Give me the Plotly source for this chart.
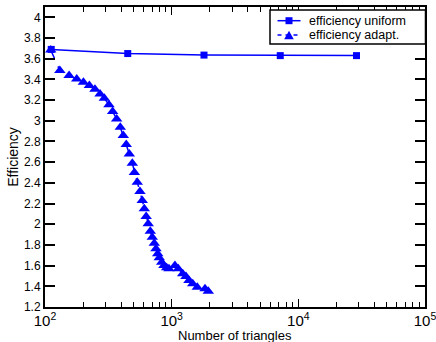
import plotly.graph_objects as go

uniform_n = [112, 450, 1800, 7200, 28800]
uniform_eff = [3.69, 3.65, 3.635, 3.63, 3.63]

adapt_n = [111, 131, 155, 178, 201, 224, 248, 272, 294, 320, 342, 368, 393, 415, 438,
           463, 489, 508, 535, 562, 586, 608, 629, 653, 678, 703, 729, 752, 776, 798,
           834, 869, 913, 952, 1061, 1128, 1222, 1297, 1370, 1466, 1593, 1833, 1946]
adapt_eff = [3.685, 3.485, 3.437, 3.405, 3.372, 3.340, 3.304, 3.260, 3.217, 3.154, 3.089,
             3.018, 2.937, 2.857, 2.770, 2.680, 2.589, 2.500, 2.406, 2.316, 2.229, 2.149,
             2.074, 2.004, 1.932, 1.874, 1.816, 1.762, 1.714, 1.675, 1.633, 1.601, 1.579,
             1.570, 1.601, 1.569, 1.521, 1.495, 1.456, 1.424, 1.391, 1.376, 1.353]

y_ticks = [1.2, 1.4, 1.6, 1.8, 2, 2.2, 2.4, 2.6, 2.8, 3, 3.2, 3.4, 3.6, 3.8, 4]
series_names = ["efficiency uniform", "efficiency adapt."]
x_title = "Number of triangles"
y_title = "Efficiency"

BLUE = "#0000ff"
W, H = 436, 342
ML, MR, MT, MB = 45, 11, 7, 35
PW, PH = W - ML - MR, H - MT - MB

fig = go.Figure()
fig.add_trace(go.Scatter(x=uniform_n, y=uniform_eff, mode="lines+markers",
                         name=series_names[0],
                         line=dict(color=BLUE, width=1.5),
                         marker=dict(symbol="square", size=7, color=BLUE)))
fig.add_trace(go.Scatter(x=adapt_n, y=adapt_eff, mode="lines+markers",
                         name=series_names[1],
                         line=dict(color=BLUE, width=1.5, dash="dash"),
                         marker=dict(symbol="triangle-up", size=10, color=BLUE)))

axis_common = dict(showline=True, linecolor="black", linewidth=2, mirror="ticks",
                   ticks="inside", tickcolor="black", showgrid=False, zeroline=False,
                   automargin=False)

fig.update_xaxes(type="log", range=[2, 5], dtick=1, exponentformat="power",
                 ticklen=8, tickwidth=1, ticklabeloverflow="allow",
                 minor=dict(ticks="inside", ticklen=5, dtick="D1", tickcolor="black",
                            tickwidth=1, showgrid=False),
                 **axis_common)
fig.update_yaxes(range=[1.2, 4.1], tickvals=y_ticks, ticklen=10, tickwidth=1.5,
                 title=dict(text=y_title, standoff=2),
                 **axis_common)

# Legend box drawn in paper coordinates (pixel positions converted to paper fractions)
def fx(px):
    return (px - ML) / PW

def fy(py):
    return 1 - (py - MT) / PH

shapes = [
    dict(type="rect", xref="paper", yref="paper", x0=fx(270), x1=fx(425.5),
         y0=fy(44), y1=fy(10), line=dict(color="black", width=1.5), fillcolor="white",
         layer="above"),
    dict(type="line", xref="paper", yref="paper", x0=fx(277.5), x1=fx(300.5),
         y0=fy(20.7), y1=fy(20.7), line=dict(color=BLUE, width=1.5), layer="above"),
    dict(type="path", xref="paper", yref="paper",
         path=f"M{fx(285.5)},{fy(17.2)} L{fx(292.5)},{fy(17.2)} L{fx(292.5)},{fy(24.2)} "
              f"L{fx(285.5)},{fy(24.2)} Z",
         fillcolor=BLUE, line=dict(color=BLUE, width=0), layer="above"),
    dict(type="line", xref="paper", yref="paper", x0=fx(277.5), x1=fx(300.5),
         y0=fy(35), y1=fy(35), line=dict(color=BLUE, width=1.5, dash="4px,4px"), layer="above"),
    dict(type="path", xref="paper", yref="paper",
         path=f"M{fx(284.2)},{fy(39.2)} L{fx(293.8)},{fy(39.2)} L{fx(289)},{fy(30.8)} Z",
         fillcolor=BLUE, line=dict(color=BLUE, width=0), layer="above"),
]
annotations = [
    dict(xref="paper", yref="paper", x=fx(307), y=fy(20.7), text=series_names[0],
         showarrow=False, xanchor="left", yanchor="middle", font=dict(size=12.5)),
    dict(xref="paper", yref="paper", x=fx(307), y=fy(35), text=series_names[1],
         showarrow=False, xanchor="left", yanchor="middle", font=dict(size=12.5)),
    dict(xref="paper", yref="paper", x=0.5, y=fy(335.5), text=x_title,
         showarrow=False, xanchor="center", yanchor="middle", font=dict(size=13)),
]

fig.update_layout(
    width=W, height=H,
    margin=dict(l=ML, r=MR, t=MT, b=MB),
    paper_bgcolor="white", plot_bgcolor="white",
    font=dict(family="Liberation Sans, Arial, sans-serif", size=12, color="black"),
    showlegend=False,
    shapes=shapes,
    annotations=annotations,
)

fig.write_html("out.html")
